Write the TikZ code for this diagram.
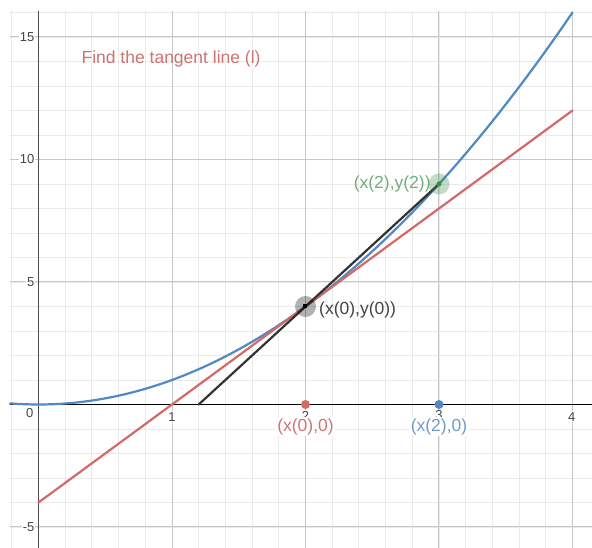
\documentclass[tikz,border=0pt]{standalone}
\usepackage{fontspec}
\setmainfont{Liberation Sans}
\definecolor{dblue}{HTML}{5189C0}
\definecolor{dred}{HTML}{D36A66}
\definecolor{dgreen}{HTML}{388C46}
\definecolor{tred}{HTML}{CC7572}
\definecolor{tblue}{HTML}{6F9CC8}
\definecolor{tgreen}{HTML}{74AD7D}
\definecolor{tblack}{HTML}{444444}
\definecolor{minorg}{HTML}{EAEAEA}
\definecolor{majorg}{HTML}{C8C8C8}
\tikzset{
  minorgrid/.style={draw=minorg, line width=0.9pt},
  majorgrid/.style={draw=majorg, line width=1pt},
  curve/.style={line width=2.2pt, line cap=round},
  numlab/.style={font=\fontsize{13}{13}\selectfont, text=tblack, fill=white, inner sep=1pt},
  ptlab/.style={font=\fontsize{17.5}{17.5}\selectfont, inner sep=1.5pt},
  dotpt/.style={circle, inner sep=0pt, minimum size=9pt},
}
\begin{document}
\begin{tikzpicture}[x=133.5pt,y=24.5pt]
\useasboundingbox[fill=white] (-0.2884,-5.857) rectangle (4.1461,16.510);
\begin{scope}
  \clip (-0.2135,-5.857) rectangle (4.1461,16.02);
  \foreach \i in {-1,...,20} \draw[minorgrid] (\i*0.2,-6) -- (\i*0.2,17);
  \foreach \j in {-5,...,16} \draw[minorgrid] (-1,\j) -- (5,\j);
  \foreach \i in {1,2,3,4} \draw[majorgrid] (\i,-6) -- (\i,17);
  \foreach \j in {-5,5,10,15} \draw[majorgrid] (-1,\j) -- (5,\j);
  \draw[black!70, line width=1.6pt] (0,-6) -- (0,17);
  \draw[black, line width=1.3pt] (-1,0) -- (5,0);
\end{scope}
% axis numbers
\node[numlab] (n0) at (-0.065,-0.35) {0};
\node[numlab] (n1) at (1,-0.5) {1};
\node[numlab] (n2) at (2,-0.45) {2};
\node[numlab] (n3) at (3,-0.45) {3};
\node[numlab] (n4) at (3.995,-0.5) {4};
\node[numlab, anchor=east] (m15) at (-0.022,15) {15};
\node[numlab, anchor=east] (m10) at (-0.022,10) {10};
\node[numlab, anchor=east] (m5) at (-0.022,5) {5};
\node[numlab, anchor=east] (mm5) at (-0.022,-5) {-5};
% curves
\draw[curve, dblue] plot[domain=-0.2135:4, samples=80, smooth] (\x,{\x*\x});
\coordinate (T0) at (0,-4);
\coordinate (T1) at (4,12);
\draw[curve, dred] (T0) -- (T1);
\coordinate (S0) at (1.2,0);
\coordinate (S1) at (3,9);
\draw[curve, black!80] (S0) -- (S1);
% points
\node[circle, fill=black, fill opacity=0.3, minimum size=21pt, inner sep=0pt] (h0) at (2,4) {};
\node[rectangle, fill=black, minimum size=4pt, inner sep=0pt] (P0) at (2,4) {};
\node[circle, fill=dgreen, fill opacity=0.3, minimum size=21pt, inner sep=0pt] (h2) at (3,9) {};
\node[circle, fill=dgreen, minimum size=5pt, inner sep=0pt] (P2) at (3,9) {};
\node[dotpt, fill=dred] (Q0) at (2,0) {};
\node[dotpt, fill=dblue] (Q2) at (3,0) {};
% labels
\node[ptlab, text=tblack, anchor=west] (L0) at (2.09,3.85) {(x(0),y(0))};
\node[ptlab, text=tgreen, anchor=east] (L2) at (2.95,9.0) {(x(2),y(2))};
\node[ptlab, text=tred, fill=white] (LQ0) at (2,-0.9) {(x(0),0)};
\node[ptlab, text=tblue, fill=white] (LQ2) at (3,-0.9) {(x(2),0)};
\node[ptlab, text=tred, anchor=west] (title) at (0.31,14.1) {Find the tangent line (l)};
\end{tikzpicture}
\end{document}
